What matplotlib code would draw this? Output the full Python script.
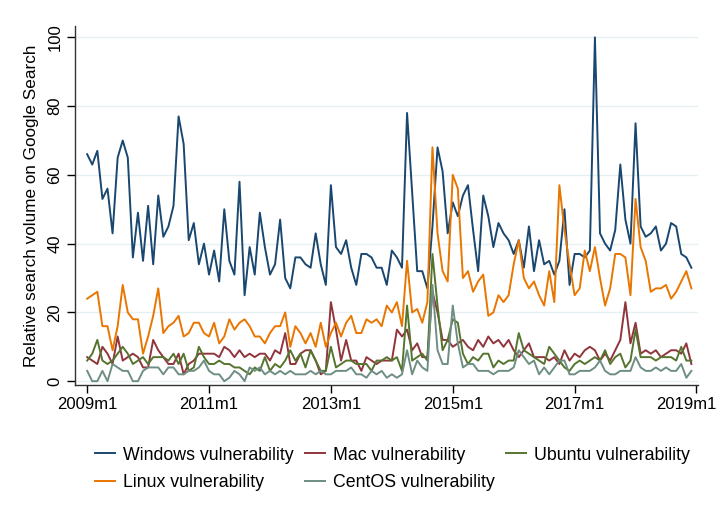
import numpy as np
import matplotlib
matplotlib.use("Agg")
import matplotlib.pyplot as plt
import matplotlib.transforms as mtransforms

# ======================
# DATA (monthly, 2009m1 - 2018m12)
# ======================
windows = [66, 63, 67, 53, 56, 43, 65, 70, 65, 36, 49, 35,
           51, 34, 54, 42, 45, 51, 77, 69, 41, 46, 34, 40,
           31, 38, 29, 50, 35, 31, 58, 25, 39, 31, 49, 39,
           31, 34, 47, 30, 27, 36, 36, 34, 33, 43, 34, 28,
           57, 39, 37, 41, 33, 28, 37, 37, 36, 33, 33, 28,
           38, 36, 33, 78, 55, 32, 32, 27, 45, 68, 61, 43,
           52, 48, 54, 57, 44, 32, 54, 48, 39, 46, 43, 41,
           37, 41, 33, 45, 32, 41, 34, 35, 31, 35, 50, 28,
           37, 37, 36, 38, 100, 43, 40, 38, 44, 63, 47, 40,
           75, 45, 42, 43, 45, 38, 40, 46, 45, 37, 36, 33]

mac = [7, 6, 5, 10, 8, 5, 13, 6, 7, 8, 7, 4,
       4, 12, 9, 7, 5, 5, 8, 2, 5, 6, 8, 8,
       8, 8, 7, 10, 9, 7, 9, 7, 8, 7, 8, 8,
       6, 9, 8, 14, 5, 5, 8, 9, 9, 6, 2, 3,
       23, 15, 6, 12, 6, 6, 3, 7, 6, 5, 6, 6,
       6, 15, 13, 15, 9, 11, 7, 7, 26, 20, 12, 12,
       10, 11, 12, 10, 9, 12, 10, 13, 11, 12, 10, 12,
       9, 7, 9, 11, 7, 7, 7, 6, 7, 5, 9, 6,
       8, 7, 9, 10, 9, 6, 8, 6, 9, 12, 23, 11,
       17, 8, 9, 8, 9, 7, 8, 9, 9, 8, 11, 5]

ubuntu = [6, 8, 12, 6, 5, 6, 8, 10, 8, 5, 6, 7,
          5, 7, 7, 7, 6, 8, 5, 8, 3, 4, 10, 7,
          5, 5, 6, 5, 5, 4, 4, 3, 2, 4, 3, 7,
          3, 5, 4, 6, 9, 6, 8, 4, 9, 6, 3, 3,
          10, 4, 5, 6, 6, 5, 5, 5, 3, 6, 6, 7,
          6, 7, 3, 22, 6, 7, 8, 6, 37, 22, 9, 12,
          18, 17, 8, 5, 7, 6, 8, 8, 4, 6, 5, 6,
          6, 14, 9, 8, 7, 6, 5, 10, 8, 6, 4, 3,
          5, 6, 5, 6, 7, 6, 9, 5, 7, 8, 4, 6,
          15, 7, 7, 7, 6, 7, 7, 7, 6, 10, 6, 6]

linux = [24, 25, 26, 16, 16, 9, 16, 28, 20, 18, 18, 8,
         13, 19, 27, 14, 16, 17, 19, 13, 14, 17, 17, 14,
         13, 17, 11, 13, 18, 15, 17, 18, 16, 13, 13, 11,
         14, 16, 16, 20, 10, 16, 14, 11, 14, 10, 17, 10,
         14, 17, 13, 17, 19, 14, 14, 18, 17, 18, 16, 22,
         20, 23, 16, 35, 20, 21, 17, 23, 68, 43, 32, 29,
         60, 56, 30, 32, 26, 29, 31, 19, 20, 25, 23, 25,
         34, 41, 30, 27, 29, 25, 22, 32, 23, 57, 44, 34,
         25, 27, 38, 32, 39, 30, 22, 27, 37, 37, 36, 25,
         53, 39, 35, 26, 27, 27, 28, 24, 26, 29, 32, 27]

centos = [3, 0, 0, 3, 0, 5, 4, 3, 3, 0, 0, 3,
          4, 4, 4, 2, 4, 4, 2, 2, 3, 3, 4, 6,
          3, 2, 2, 0, 1, 3, 2, 0, 4, 3, 4, 2,
          3, 2, 3, 2, 3, 2, 2, 2, 3, 2, 3, 2,
          2, 3, 3, 3, 4, 2, 2, 1, 3, 2, 3, 1,
          2, 1, 2, 9, 2, 6, 4, 3, 28, 9, 5, 5,
          22, 11, 4, 5, 5, 3, 3, 3, 2, 3, 3, 3,
          4, 9, 7, 5, 6, 2, 4, 2, 4, 6, 6, 2,
          2, 3, 3, 3, 4, 6, 3, 2, 2, 3, 3, 3,
          7, 4, 3, 3, 4, 3, 4, 3, 3, 5, 1, 3]

x_tick_pos = [0, 24, 48, 72, 96, 120]
x_tick_labels = ["2009m1", "2011m1", "2013m1", "2015m1", "2017m1", "2019m1"]
y_ticks = [0, 20, 40, 60, 80, 100]

# ======================
# PLOT
# ======================
plt.rcParams["font.family"] = ["Liberation Sans", "DejaVu Sans"]

fig = plt.figure(figsize=(7.17, 5.23), dpi=100)
ax = fig.add_axes([0.1046, 0.2639, 0.8689, 0.6864])

months = np.arange(len(windows))
lw = 1.4
h_win, = ax.plot(months, windows, color="#1a476f", lw=lw, label="Windows vulnerability")
h_mac, = ax.plot(months, mac, color="#90353b", lw=lw, label="Mac vulnerability")
h_ubu, = ax.plot(months, ubuntu, color="#55752f", lw=lw, label="Ubuntu vulnerability")
h_lin, = ax.plot(months, linux, color="#e87600", lw=lw, label="Linux vulnerability")
h_cen, = ax.plot(months, centos, color="#6e8e84", lw=lw, label="CentOS vulnerability")

ax.set_xlim(-2.4, 120.3)
ax.set_ylim(-1.1, 103.3)

ax.set_xticks(x_tick_pos)
ax.set_xticklabels(x_tick_labels, fontsize=12)
ax.set_yticks(y_ticks)
ax.set_yticklabels([str(v) for v in y_ticks], fontsize=12, rotation=90, va="center")
ax.tick_params(direction="out", length=6, width=1, color="#000000", pad=3)

# last label sits at the figure edge; pull it in a little
last = ax.get_xticklabels()[-1]
last.set_transform(last.get_transform() +
                   mtransforms.ScaledTranslation(-10 / 100, 0, fig.dpi_scale_trans))

ax.grid(axis="y", color="#e6eff2", lw=1)
ax.set_axisbelow(True)
for side in ["top", "right"]:
    ax.spines[side].set_visible(False)
for side in ["left", "bottom"]:
    ax.spines[side].set_linewidth(1)
    ax.spines[side].set_color("#333333")

ax.set_ylabel("Relative search volume on Google Search", fontsize=12.3, labelpad=6)

# legend: rows Windows/Mac/Ubuntu then Linux/CentOS
handles = [h_win, h_lin, h_mac, h_cen, h_ubu]
fig.legend(handles=handles, labels=[h.get_label() for h in handles],
           loc="upper left", bbox_to_anchor=(0.1325, 0.146), ncol=3,
           frameon=False, fontsize=12.8, handlelength=1.15, handletextpad=0.45,
           columnspacing=0.6, labelspacing=0.58, borderaxespad=0, borderpad=0)

fig.savefig("out.png", dpi=100, facecolor="white")
